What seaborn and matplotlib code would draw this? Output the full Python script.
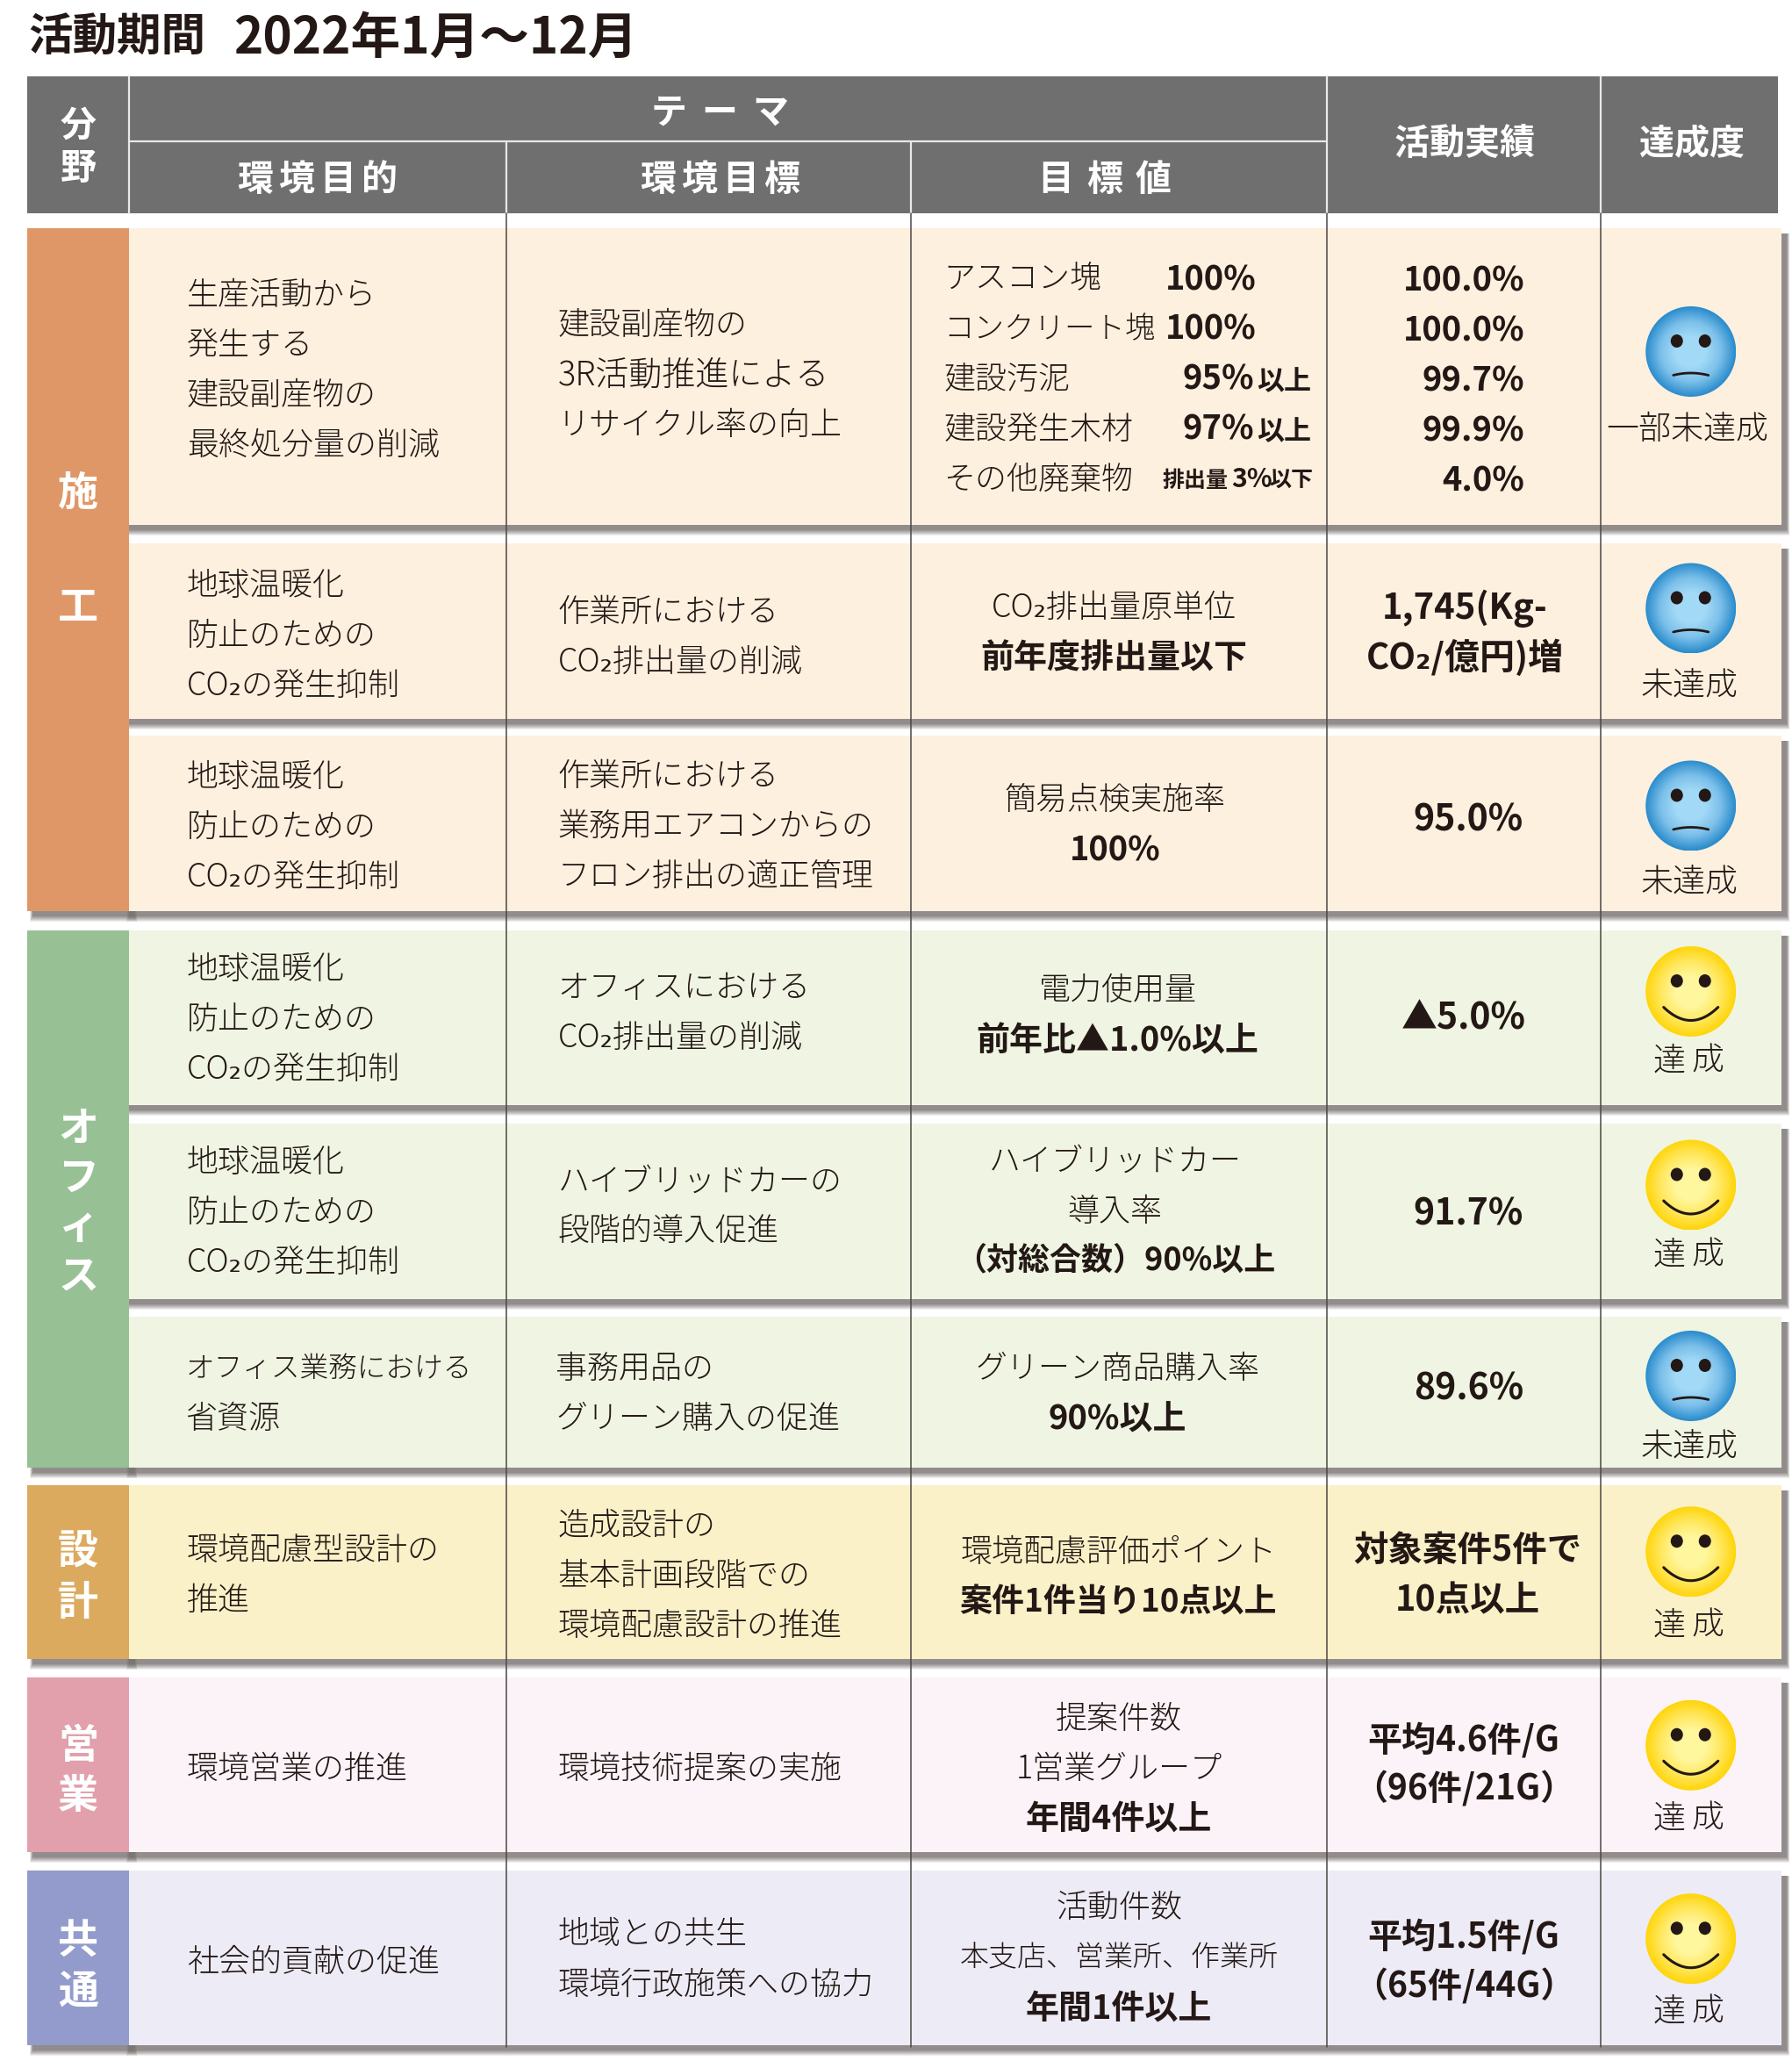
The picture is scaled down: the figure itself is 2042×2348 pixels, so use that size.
import numpy as np
import matplotlib
matplotlib.use('Agg')
import matplotlib.pyplot as plt
from matplotlib.patches import Rectangle, Circle, Ellipse
import seaborn as sns

sns.set_theme(style='white')
plt.rcParams['font.family'] = ['Noto Sans CJK JP', 'DejaVu Sans']

# ---------- content ----------
title_head = '活動期間'
title_span = '2022年1月～12月'
sections = ['施工', 'オフィス', '設計', '営業', '共通']
section_rows = [3, 3, 1, 1, 1]
goals = [
    ['生産活動から', '発生する', '建設副産物の', '最終処分量の削減'],
    ['地球温暖化', '防止のための', 'CO₂の発生抑制'],
    ['地球温暖化', '防止のための', 'CO₂の発生抑制'],
    ['地球温暖化', '防止のための', 'CO₂の発生抑制'],
    ['地球温暖化', '防止のための', 'CO₂の発生抑制'],
    ['オフィス業務における', '省資源'],
    ['環境配慮型設計の', '推進'],
    ['環境営業の推進'],
    ['社会的貢献の促進'],
]
targets = [
    ['建設副産物の', '3R活動推進による', 'リサイクル率の向上'],
    ['作業所における', 'CO₂排出量の削減'],
    ['作業所における', '業務用エアコンからの', 'フロン排出の適正管理'],
    ['オフィスにおける', 'CO₂排出量の削減'],
    ['ハイブリッドカーの', '段階的導入促進'],
    ['事務用品の', 'グリーン購入の促進'],
    ['造成設計の', '基本計画段階での', '環境配慮設計の推進'],
    ['環境技術提案の実施'],
    ['地域との共生', '環境行政施策への協力'],
]
waste_names = ['アスコン塊', 'コンクリート塊', '建設汚泥', '建設発生木材', 'その他廃棄物']
waste_values = ['100%', '100%', '95%', '97%', '3%']
waste_suffix = ['', '', '以上', '以上', '以下']
waste_prefix = ['', '', '', '', '排出量']
# text, is_bold
values = [
    None,
    [('CO₂排出量原単位', 0), ('前年度排出量以下', 1)],
    [('簡易点検実施率', 0), ('100%', 1)],
    [('電力使用量', 0), ('前年比▲1.0%以上', 1)],
    [('ハイブリッドカー', 0), ('導入率', 0), ('（対総合数）90%以上', 1)],
    [('グリーン商品購入率', 0), ('90%以上', 1)],
    [('環境配慮評価ポイント', 0), ('案件1件当り10点以上', 1)],
    [('提案件数', 0), ('1営業グループ', 0), ('年間4件以上', 1)],
    [('活動件数', 0), ('本支店、営業所、作業所', 0), ('年間1件以上', 1)],
]
results = [
    ['100.0%', '100.0%', '99.7%', '99.9%', '4.0%'],
    ['1,745(Kg-', 'CO₂/億円)増'],
    ['95.0%'],
    ['▲5.0%'],
    ['91.7%'],
    ['89.6%'],
    ['対象案件5件で', '10点以上'],
    ['平均4.6件/G', '（96件/21G）'],
    ['平均1.5件/G', '（65件/44G）'],
]
ratings = ['一部未達成', '未達成', '未達成', '達成', '達成', '未達成', '達成', '達成', '達成']
happy = [0, 0, 0, 1, 1, 0, 1, 1, 1]

# ---------- layout (pixels) ----------
S = 1.5
col_x = [31, 147, 577, 1037.5, 1512, 1824, 2030]
head_right = 2026
row_top = [260, 619, 838, 1060, 1280, 1500, 1692, 1911, 2131]
row_bot = [598, 819, 1038, 1259, 1480, 1672, 1890, 2110, 2330]
sec_color = ['#e09767', '#98c095', '#dbaa5f', '#e2a0ac', '#929bcb']
sec_fill = ['#fdf0df', '#eff5e2', '#faf1c8', '#fcf3f8', '#ecebf6']
sec_letters_y = [[374, 461], [858, 895, 932, 970], [1179, 1218], [1327, 1365], [1475, 1514]]
goal_y = [223, 444, 590, 736, 883, 1040, 1178, 1344, 1491]
goal_x = [142, 142, 142, 142, 142, 141, 142, 142, 142]
target_y = [246, 464, 589, 750, 897, 1040, 1159, 1344, 1470]
target_x = [423.6, 423.6, 423.6, 423.6, 423.6, 422, 423.6, 423.6, 423.6]
value_y = [211, 461, 607, 752, 882, 1040, 1179, 1306, 1450]
value_cx = [0, 846, 847, 849, 847, 849, 849.5, 850, 850]
result_y = [212, 461, 622, 773, 922, 1055, 1178, 1322, 1472]
result_cx = [1158, 1113, 1115.5, 1112, 1115.5, 1115.5, 1115, 1112, 1112]
result_size = [38, 40, 41, 41, 41, 41, 39.5, 39, 39]
face_y = [267, 462, 612, 753, 900, 1045, 1178.5, 1325.5, 1472.5]
rating_y = [325, 520, 670, 806, 953, 1099, 1235, 1382, 1529]
face_cx = 1284.5
LINE = 38
BODY = 36
LIGHT = 300
INK = '#231815'
GREY = '#6f6f6f'
SIZE_OVERRIDE = {'オフィス業務における': 32.7, '3R活動推進による': 38, '本支店、営業所、作業所': 33,
                 'コンクリート塊': 34.5, '（対総合数）90%以上': 36, '案件1件当り10点以上': 37}


def pts(px):
    return px * 0.72


fig = plt.figure(figsize=(20.42, 23.48), dpi=100)
ax = fig.add_axes([0, 0, 1, 1])
ax.set_xlim(0, 2042)
ax.set_ylim(2348, 0)
ax.axis('off')


def put(x, y, s, size=BODY, bold=False, ha='left', color=INK, z=10):
    size = SIZE_OVERRIDE.get(s, size)
    ax.text(x, y + 2.5 - y * 0.0015, s, fontsize=pts(size), fontweight='bold' if bold else LIGHT,
            ha=ha, va='center', color=color, zorder=z)


def spaced(cx, y, chars, pitch, size, bold=True, color='white'):
    n = len(chars)
    for i, c in enumerate(chars):
        put(cx + (i - (n - 1) / 2) * pitch, y, c, size=size, bold=bold, ha='center', color=color)


def shadow(x0, y0, x1, y1, dx=6, dy=6):
    for d, a in zip([6, 5, 4, 3, 2, 1, 0], [.12, .14, .16, .18, .2, .25, .35]):
        ax.add_patch(Rectangle((x0 + dx - d / 2, y0 + dy), x1 - x0 + d, y1 - y0 + d,
                               fc='#787371', ec='none', alpha=a, zorder=1))


# title
put(32, 41, title_head, size=50.5, bold=True)
put(266, 41, title_span, size=56.7, bold=True)

# header
ax.add_patch(Rectangle((col_x[0], 87), head_right - col_x[0], 156, fc=GREY, ec='none', zorder=2))
ax.plot([col_x[1], col_x[1]], [87, 243], color='#e8e8e8', lw=1.6, zorder=3)
ax.plot([col_x[1], col_x[4]], [161, 161], color='#e8e8e8', lw=1.6, zorder=3)
for x in col_x[2:4]:
    ax.plot([x, x], [161, 243], color='#e8e8e8', lw=1.6, zorder=3)
for x in col_x[4:6]:
    ax.plot([x, x], [87, 243], color='#e8e8e8', lw=1.6, zorder=3)
put(col_x[0] + 58, 94 * S, '分', size=41, bold=True, ha='center', color='white')
put(col_x[0] + 58, 126.5 * S, '野', size=41, bold=True, ha='center', color='white')
spaced(546.5 * S, 84 * S, 'テーマ', 58, 41)
spaced(241 * S, 135 * S, '環境目的', 47, 41)
spaced(546.5 * S, 135 * S, '環境目標', 47, 41)
spaced(839 * S, 135 * S, '目標値', 56, 41)
spaced(1112.5 * S, 108 * S, '活動実績', 40, 40)
spaced(1285 * S, 108 * S, '達成度', 40, 40)

# rows + sections
row = 0
for k, sec in enumerate(sections):
    first, last = row, row + section_rows[k] - 1
    shadow(col_x[0], row_bot[last] - 20, col_x[1], row_bot[last])
    for r in range(first, last + 1):
        shadow(col_x[1] - 6, row_top[r], col_x[6], row_bot[r])
    for r in range(first, last + 1):
        ax.add_patch(Rectangle((col_x[1], row_top[r]), col_x[6] - col_x[1], row_bot[r] - row_top[r],
                               fc=sec_fill[k], ec='none', zorder=2))
    ax.add_patch(Rectangle((col_x[0], row_top[first]), col_x[1] - col_x[0], row_bot[last] - row_top[first],
                           fc=sec_color[k], ec='none', zorder=3))
    for c, y in zip(sec, sec_letters_y[k]):
        put(col_x[0] + 58, y * S - 1, c, size=46, bold=True, ha='center', color='white')
    row = last + 1

# column rules
for x in col_x[2:6]:
    ax.plot([x, x], [243, 2332], color='#4c4745', lw=1.1, zorder=5)

# text columns
for r in range(9):
    for i, s in enumerate(goals[r]):
        put(goal_x[r] * S, (goal_y[r] + i * LINE) * S, s)
    for i, s in enumerate(targets[r]):
        put(target_x[r] * S, (target_y[r] + i * LINE) * S, s)
    if values[r] is not None:
        for i, (s, b) in enumerate(values[r]):
            put(value_cx[r] * S, (value_y[r] + i * LINE) * S, s, size=38 if b else BODY,
                bold=bool(b), ha='center')
    for i, s in enumerate(results[r]):
        ha = 'right' if r == 0 else 'center'
        put(result_cx[r] * S, (result_y[r] + i * LINE) * S, s, size=result_size[r], bold=True, ha=ha)

# first row's per-material targets
for i, name in enumerate(waste_names):
    y = (value_y[0] + i * LINE) * S
    put(717 * S, y, name)
    val_x = [885.3, 885.3, 898.5, 898.5, 0][i] * S
    if waste_prefix[i]:
        put(1325, y + 2, waste_prefix[i], size=25, bold=True)
        put(1403, y, waste_values[i], size=30, bold=True)
        put(1446, y + 2, waste_suffix[i], size=25, bold=True)
    else:
        put(val_x, y, waste_values[i], size=38, bold=True)
        if waste_suffix[i]:
            put(1432, y + 3, waste_suffix[i], size=31, bold=True)

# faces
blue = sns.blend_palette(['#a2daf7', '#a2daf7', '#7cc0ea', '#2a8ccc'], as_cmap=True)
yellow = sns.blend_palette(['#fff79e', '#fff79e', '#ffe860', '#ffd50a'], as_cmap=True)
u = np.linspace(-1, 1, 256)
rad = np.sqrt(u[None, :] ** 2 + u[:, None] ** 2)
R = 51.5
for r in range(9):
    cx, cy = face_cx * S, face_y[r] * S
    im = ax.imshow(rad, cmap=yellow if happy[r] else blue, vmin=0, vmax=1,
                   extent=(cx - R, cx + R, cy + R, cy - R), aspect='auto', zorder=6,
                   interpolation='bilinear')
    im.set_clip_path(Circle((cx, cy), R, transform=ax.transData))
    for sgn in (-1, 1):
        ax.add_patch(Ellipse((cx + sgn * 16, cy - 12), 14, 15, fc=INK, ec='none', zorder=7))
    t = np.linspace(-1, 1, 40)
    if happy[r]:
        ax.plot(cx + 31 * t, cy + 33 - 15 * t ** 2, color=INK, lw=2.2, zorder=7, solid_capstyle='round')
    else:
        ax.plot(cx + 20 * t, cy + 24.5 + 2.5 * t ** 2, color=INK, lw=2.0, zorder=7)
    label = ratings[r]
    if label == '達成':
        spaced(cx - 3, rating_y[r] * S, label, 44, 37, bold=False, color=INK)
    else:
        put(cx - (4 if r == 0 else 2), rating_y[r] * S, label, size=37, ha='center')

ax.set_xlim(0, 2042)
ax.set_ylim(2348, 0)
sns.despine(ax=ax, left=True, bottom=True)
fig.savefig('out.png', dpi=100, facecolor='white')
